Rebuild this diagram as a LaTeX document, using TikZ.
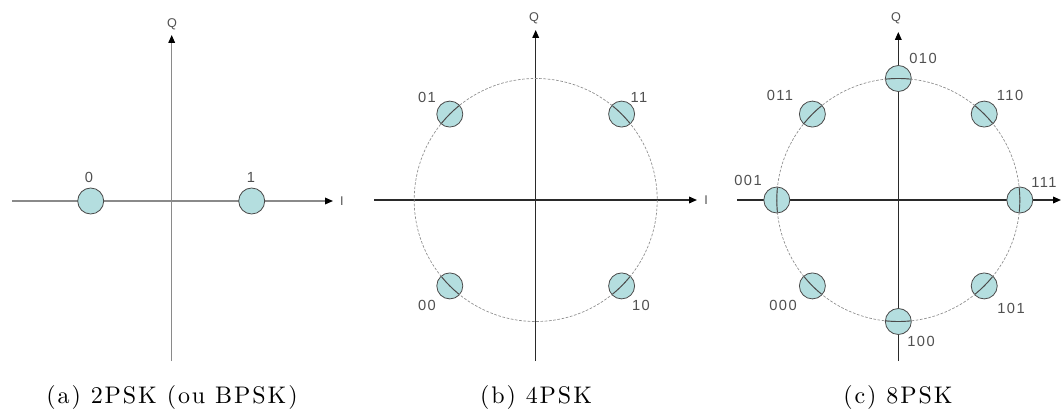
\documentclass[tikz,border=0pt]{standalone}
\usepackage{fontspec}
\setsansfont{Liberation Sans}
\newfontfamily\capfont{lmroman10-regular}[Extension=.otf,LetterSpace=8]
\usetikzlibrary{arrows.meta}
\definecolor{ptfill}{HTML}{B4DEDF}
\definecolor{ptdraw}{HTML}{4A4A4A}
\definecolor{axa}{HTML}{8A8A8A}
\definecolor{axb}{HTML}{2A2A2A}
\definecolor{circcol}{HTML}{8C8C8C}
\definecolor{lblcol}{HTML}{505050}
\begin{document}
\begin{tikzpicture}[x=0.75pt,y=-0.75pt,
  tipstyle/.style={-{Triangle[length=6pt,width=5pt,color=black]}},
  axisA/.style={draw=axa,line width=0.9pt,tipstyle},
  axisB/.style={draw=axb,line width=1pt,tipstyle},
  ptnode/.style={circle,draw=ptdraw,fill=ptfill,line width=0.6pt,minimum size=19.5pt,inner sep=0pt},
  ringstyle/.style={draw=circcol,line width=0.5pt,dash pattern=on 2pt off 1.2pt},
  chordstyle/.style={draw=ptdraw,line width=0.7pt},
  lbl/.style={font=\sffamily\fontsize{11}{13}\selectfont\addfontfeature{LetterSpace=10},text=lblcol,inner sep=0pt},
  axlbl/.style={font=\sffamily\fontsize{9.5}{11}\selectfont,text=lblcol,inner sep=0pt},
  captext/.style={font=\capfont\fontsize{18}{20}\selectfont,inner sep=0pt}]
\useasboundingbox (0,0) rectangle (1062,413);

% ---------- (a) 2PSK ----------
\coordinate (aL) at (12,201);
\coordinate (aR) at (333,201);
\coordinate (aB) at (171.7,361);
\coordinate (aT) at (171.7,35);
\draw[axisA] (aL) -- (aR);
\draw[axisA] (aB) -- (aT);
\node[axlbl] (aQ) at (172,24) {Q};
\node[axlbl] (aI) at (342,201) {I};
\node[ptnode] (a0) at (90.7,201) {};
\node[ptnode] (a1) at (251.7,201) {};
\node[lbl] (la0) at (89,177) {0};
\node[lbl] (la1) at (251,177) {1};
\node[captext] (capa) at (172,397) {(a) 2PSK (ou BPSK)};

% ---------- (b) 4PSK ----------
\coordinate (bO) at (535.7,200);
\coordinate (bL) at (374,200);
\coordinate (bR) at (697,200);
\coordinate (bB) at (535.7,361);
\coordinate (bT) at (535.7,30);
\draw[axisB] (bL) -- (bR);
\draw[axisB] (bB) -- (bT);
\node[axlbl] (bQ) at (534,18) {Q};
\node[axlbl] (bI) at (706,200) {I};
\foreach \a/\n in {45/b11,135/b01,225/b00,315/b10}{
  \node[ptnode] (\n) at ({535.7+121.5*cos(\a)},{200-121.5*sin(\a)}) {};
}
\draw[ringstyle] (bO) circle (121.5);
\foreach \n in {b11,b01,b00,b10}{
  \begin{scope}
    \clip (\n) circle (12.5);
    \draw[chordstyle] (bO) circle (121.5);
  \end{scope}
}
\node[lbl] (lb01) at (427,97) {01};
\node[lbl] (lb11) at (639,97) {11};
\node[lbl] (lb00) at (427,305) {00};
\node[lbl] (lb10) at (641,305) {10};
\node[captext] (capb) at (536,397) {(b) 4PSK};

% ---------- (c) 8PSK ----------
\coordinate (cO) at (898.3,200);
\coordinate (cL) at (737,200);
\coordinate (cR) at (1061,200);
\coordinate (cB) at (898.3,361);
\coordinate (cT) at (898.3,32);
\draw[axisB] (cL) -- (cR);
\draw[axisB] (cB) -- (cT);
\node[axlbl] (cQ) at (896,18) {Q};
\foreach \a/\n in {0/c111,45/c110,90/c010,135/c011,180/c001,225/c000,270/c100,315/c101}{
  \node[ptnode] (\n) at ({898.3+121.5*cos(\a)},{200-121.5*sin(\a)}) {};
}
\draw[ringstyle] (cO) circle (121.5);
\foreach \n in {c111,c110,c010,c011,c001,c000,c100,c101}{
  \begin{scope}
    \clip (\n) circle (12.5);
    \draw[chordstyle] (cO) circle (121.5);
  \end{scope}
}
\node[lbl] (lc010) at (923,58) {010};
\node[lbl] (lc110) at (1010,95) {110};
\node[lbl] (lc011) at (780,95) {011};
\node[lbl] (lc001) at (748,180) {001};
\node[lbl] (lc111) at (1044,182) {111};
\node[lbl] (lc000) at (783,305) {000};
\node[lbl] (lc101) at (1011,308) {101};
\node[lbl] (lc100) at (921,341) {100};
\node[captext] (capc) at (898,397) {(c) 8PSK};
\end{tikzpicture}
\end{document}
